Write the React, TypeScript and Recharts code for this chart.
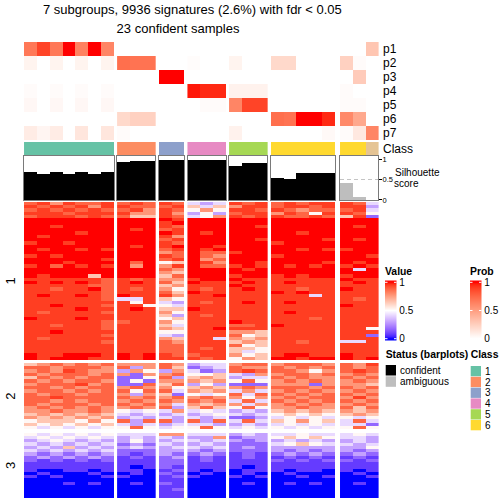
import React from 'react';
import { BarChart, Bar, XAxis, YAxis, Cell, ReferenceLine } from 'recharts';

// ---------- data ----------
const GROUP_SIZES = [7, 3, 2, 3, 3, 5, 3];
const GROUP_STATUS = ['confident', 'confident', 'confident', 'confident', 'confident', 'confident', 'ambiguous'];
const COLUMN_CLASS = [1, 1, 1, 1, 1, 1, 1, 2, 2, 2, 3, 3, 4, 4, 4, 5, 5, 5, 6, 6, 6, 6, 6, 6, 6, 7];
const SILHOUETTE = [
  0.7, 0.63, 0.7, 0.63, 0.7, 0.63, 0.7,
  0.93, 0.96, 0.96,
  0.99, 0.99,
  0.975, 0.99, 0.99,
  0.83, 0.925, 0.925,
  0.55, 0.525, 0.675, 0.675, 0.675,
  0.41, 0.075, 0.01,
];

const PROB_NAMES = ['p1', 'p2', 'p3', 'p4', 'p5', 'p6', 'p7'];
const PROB_P1 = [0.68, 0.88, 0.68, 1, 0.64, 1, 0.62, 0, 0, 0, 0, 0, 0, 0, 0, 0, 0, 0, 0, 0, 0, 0, 0, 0, 0, 0.3];
const PROB_P2 = [0.06, 0, 0.06, 0, 0.06, 0, 0.06, 0.72, 0.7, 0.7, 0, 0, 0.015, 0, 0, 0.06, 0, 0, 0.2, 0.2, 0, 0, 0, 0.24, 0.02, 0];
const PROB_P3 = [0, 0, 0, 0, 0, 0, 0, 0, 0, 0, 1, 1, 0, 0, 0, 0, 0, 0, 0, 0, 0, 0, 0, 0, 0.27, 0];
const PROB_P4 = [0.02, 0, 0.02, 0, 0.02, 0, 0.02, 0, 0, 0, 0, 0, 0.98, 0.95, 0.95, 0.07, 0.07, 0.07, 0, 0, 0, 0, 0, 0.02, 0, 0];
const PROB_P5 = [0.04, 0, 0.04, 0, 0.04, 0, 0.04, 0, 0, 0, 0, 0, 0, 0.02, 0.02, 0.62, 0.88, 0.88, 0, 0, 0, 0, 0, 0.02, 0.02, 0];
const PROB_P6 = [0, 0, 0, 0, 0, 0, 0, 0.2, 0.24, 0.24, 0, 0, 0, 0, 0, 0, 0, 0, 0.72, 0.7, 1, 1, 0.95, 0.6, 0.45, 0];
const PROB_P7 = [0.1, 0.05, 0.1, 0, 0.13, 0, 0.13, 0.02, 0, 0, 0, 0, 0, 0, 0, 0.07, 0, 0, 0, 0, 0, 0, 0.03, 0.02, 0.12, 0.62];
const PROBS = [PROB_P1, PROB_P2, PROB_P3, PROB_P4, PROB_P5, PROB_P6, PROB_P7];

const CLASS_LEVELS = [1, 2, 3, 4, 5, 6];
const CLASS_COLORS: Record<number, string> = {
  1: '#66C2A5', 2: '#FC8D62', 3: '#8DA0CB', 4: '#E78AC3', 5: '#A6D854', 6: '#FFD92F', 7: '#E5C494',
};
const ROW_TITLES = ['1', '2', '3'];

// heatmap cells: one character per sample, groups separated by spaces
const CODE_VALUE: Record<string, number> = {
  '0': 0, '1': 0.08, '2': 0.17, '3': 0.3, '4': 0.42, '5': 0.52,
  '6': 0.65, '7': 0.77, '8': 0.88, '9': 0.95, X: 1,
};

const CLUSTER_1 = [
  '8979889 898 98 434 989 89899 984',
  '9898979 988 89 646 799 89989 993',
  '8989898 897 98 575 998 98788 894',
  '9998999 977 97 353 899 79859 985',
  '8999898 866 98 457 989 98898 692',
  'XXXXXXX XXX X9 XXX XXX XXXXX XXX',
  'XXXXXXX XXX 9X XXX XXX XXXXX XXX',
  'XX9XXXX XXX 98 XXX XX9 XXXXX X9X',
  'XXXXXXX X9X 89 XXX XXX XXXXX XXX',
  'XXXX9XX XXX X9 X9X XXX XX9XX XXX',
  'X9XXXXX XXX 97 XXX XXX XXXXX XXX',
  'XXXXXXX XXX 89 XXX XX9 XXXX9 X9X',
  '9XX9XXX XXX 98 XXX XXX 9XXXX XXX',
  'XXXXXXX X9X 9X XX9 XXX XXXXX XXX',
  'X9XX9X9 XXX 89 X9X XXX XX9X9 9XX',
  'XXXXXXX XXX 78 X88 9XX XXXXX XXX',
  '9X9XXXX XXX 98 X87 XXX 9XXXX XX9',
  'XXXXXX9 XXX 89 X78 XXX XXXXX XXX',
  'XXX9XXX X8X 56 X97 XX9 XXXX9 X9X',
  '9X8X9X9 X7X 79 X88 9X9 X9X9X 9X9',
  'XXXXXXX XXX 87 XXX X9X XXXXX X4X',
  'XXXXXXX XXX 76 XXX XXX XXXXX XXX',
  'X9XXX6X XXX 68 XXX 9XX 9X9XX 9XX',
  '9999998 989 77 9XX X99 99999 X99',
  'X9X9X98 9X9 86 X99 9X9 9X999 9X9',
  '9999988 999 67 999 X99 99999 999',
  '99899X8 989 75 989 9X9 99899 X99',
  '9999998 999 86 X99 999 X9X99 999',
  '9X99X98 X99 97 99X 999 99949 999',
  '9999998 449 65 999 999 99999 989',
  '9999999 959 43 989 9X9 9X999 999',
  '99X9998 995 54 999 999 99999 X99',
  '9999X99 9X9 66 X99 999 99999 999',
  '9899998 999 75 999 999 9X999 999',
  '9999999 999 63 989 999 99999 999',
  'X999X99 999 56 999 999 99989 999',
  '9999998 899 75 999 X99 99999 999',
  '9989998 999 64 999 889 X9999 999',
  '9999998 999 76 99X 999 99999 995',
  '99X9999 999 55 999 776 99999 999',
  '9999998 999 43 999 856 99999 992',
  '9899999 999 76 994 767 99999 999',
  '9999998 999 87 999 676 99899 449',
  '9999999 999 88 999 856 99999 999',
  '9999999 999 88 989 665 99999 999',
  '9999999 999 88 999 645 99999 999',
  'X99XXX9 X9X 98 899 756 9XX99 X99',
  'X9XXX99 X9X 99 989 576 XX9XX X9X',
];

const CLUSTER_2 = [
  '6787878 777 87 344 788 78887 879',
  '8878887 837 86 234 877 87878 878',
  '7879877 375 37 423 898 88757 898',
  '8788878 727 78 556 437 78878 787',
  '6878788 225 83 676 344 87877 878',
  '8787887 252 77 767 585 78787 787',
  '7888978 228 68 353 222 77727 776',
  '8878788 787 75 676 787 88878 878',
  '7887878 858 84 767 474 78787 787',
  '8788788 737 62 545 848 87878 878',
  '8898888 878 78 787 757 78788 797',
  '8878788 787 87 878 484 87878 878',
  '8788878 878 74 767 747 78787 787',
  '7878787 787 83 686 585 77877 868',
  '7787787 545 47 454 343 67676 767',
  '6767676 434 34 345 434 56565 676',
  '7676767 343 43 434 223 45454 545',
  '5666575 838 83 838 484 65756 484',
  '6565656 434 34 443 343 45454 442',
  '5454545 585 45 585 454 54545 585',
];

const CLUSTER_3 = [
  '5454545 444 77 444 343 44544 454',
  '4545454 343 43 337 233 56565 443',
  '3454343 353 34 434 323 34343 343',
  '4343434 232 43 343 222 45654 434',
  '3436343 343 34 434 232 33333 335',
  '4343434 222 33 323 222 32323 323',
  '3232323 212 32 232 121 23232 232',
  '2323232 121 23 121 121 12121 121',
  '2121212 111 22 121 111 21212 212',
  '1111111 111 22 111 111 11111 111',
  '1111111 101 21 111 101 11111 111',
  '1001101 110 12 101 011 10110 101',
  '0100010 010 21 010 010 01000 010',
  '1010001 100 12 100 101 00101 001',
  '0000000 000 11 000 000 00000 000',
  '0001010 010 21 000 010 01010 010',
  '0000000 000 11 000 000 00000 000',
  '0000000 000 12 000 000 00000 000',
  '0000000 000 11 000 000 00000 000',
  '0000000 000 11 000 000 00000 000',
];
const CLUSTERS = [CLUSTER_1, CLUSTER_2, CLUSTER_3];

// ---------- layout ----------
const FONT = '"Liberation Sans", Arial, Helvetica, sans-serif';
const X0 = 24;
const COL_W = 12.87;
const GAP = 3;
const LAST_GAP = 5;
const P_TOP = 41.7;
const P_ROW = 14.04;
const CLASS_TOP = 141.7;
const CLASS_H = 14;
const SIL_TOP = 156;
const SIL_H = 44;
const SIL_MAX = 1.086;
const SIL_PAD = 6;
const AXIS_W = 24;
const CLUSTER_Y = [[201.7, 360], [362.7, 429.3], [432.7, 498]];
const TINY = 1e-6;

const GROUP_START: number[] = [];
const GROUP_X: number[] = [];
{
  let col = 0;
  let x = X0;
  GROUP_SIZES.forEach((n, i) => {
    if (i > 0) x += i === GROUP_SIZES.length - 1 ? LAST_GAP : GAP;
    GROUP_START.push(col);
    GROUP_X.push(x);
    col += n;
    x += n * COL_W;
  });
}

// ---------- colour mapping (LAB interpolation like colorRamp2) ----------
type Lab = [number, number, number];
const toLinear = (c: number) => (c <= 0.04045 ? c / 12.92 : Math.pow((c + 0.055) / 1.055, 2.4));
const fromLinear = (c: number) => (c <= 0.0031308 ? 12.92 * c : 1.055 * Math.pow(c, 1 / 2.4) - 0.055);
const hexToLab = (hex: string): Lab => {
  const r = toLinear(parseInt(hex.slice(1, 3), 16) / 255);
  const g = toLinear(parseInt(hex.slice(3, 5), 16) / 255);
  const b = toLinear(parseInt(hex.slice(5, 7), 16) / 255);
  const x = (0.4124 * r + 0.3576 * g + 0.1805 * b) / 0.95047;
  const y = 0.2126 * r + 0.7152 * g + 0.0722 * b;
  const z = (0.0193 * r + 0.1192 * g + 0.9505 * b) / 1.08883;
  const f = (t: number) => (t > 0.008856 ? Math.cbrt(t) : 7.787 * t + 16 / 116);
  return [116 * f(y) - 16, 500 * (f(x) - f(y)), 200 * (f(y) - f(z))];
};
const labToHex = ([L, a, bb]: Lab) => {
  const fy = (L + 16) / 116;
  const fx = fy + a / 500;
  const fz = fy - bb / 200;
  const inv = (t: number) => (t * t * t > 0.008856 ? t * t * t : (t - 16 / 116) / 7.787);
  const x = inv(fx) * 0.95047;
  const y = inv(fy);
  const z = inv(fz) * 1.08883;
  const rgb = [
    3.2406 * x - 1.5372 * y - 0.4986 * z,
    -0.9689 * x + 1.8758 * y + 0.0415 * z,
    0.0557 * x - 0.204 * y + 1.057 * z,
  ];
  return '#' + rgb
    .map((c) => Math.round(255 * Math.min(1, Math.max(0, fromLinear(Math.max(0, c))))).toString(16).padStart(2, '0'))
    .join('');
};
const colorRamp = (breaks: number[], colors: string[]) => {
  const labs = colors.map(hexToLab);
  return (v: number) => {
    const x = Math.min(breaks[breaks.length - 1], Math.max(breaks[0], v));
    let i = 0;
    while (i < breaks.length - 2 && x > breaks[i + 1]) i++;
    const t = (x - breaks[i]) / (breaks[i + 1] - breaks[i]);
    return labToHex(labs[i].map((c, k) => c + (labs[i + 1][k] - c) * t) as Lab);
  };
};
const valueColor = colorRamp([0, 0.5, 1], ['#0000FF', '#FFFFFF', '#FF0000']);
const probColor = colorRamp([0, 1], ['#FFFFFF', '#FF0000']);

const decodeRow = (s: string) => s.replace(/ /g, '').split('').map((ch) => CODE_VALUE[ch]);

// ---------- pieces ----------
interface StripProps {
  left: number;
  top: number;
  width: number;
  height: number;
  colors: string[][];
}

// grid of coloured cells: rows are categories, samples are stacked bars.
// The wrapper sits on whole pixels; the fractional part goes into the margin.
const HeatStrip: React.FC<StripProps> = ({ left, top, width, height, colors }) => {
  const ix = Math.floor(left);
  const iy = Math.floor(top);
  const fx = left - ix;
  const fy = top - iy;
  const nCols = colors[0].length;
  const data = colors.map((row, r) => {
    const d: Record<string, number> = { row: r };
    row.forEach((_, c) => {
      d[`c${c}`] = 1;
    });
    return d;
  });
  return (
    <div style={{ position: 'absolute', left: ix, top: iy, shapeRendering: 'crispEdges' } as React.CSSProperties}>
      <BarChart
        layout="vertical"
        width={width + fx}
        height={height + fy}
        data={data}
        margin={{ top: fy, right: 0, bottom: 0, left: fx }}
        barCategoryGap={0}
        barGap={0}
        barSize={height / colors.length - TINY}
      >
        <XAxis type="number" domain={[0, nCols]} allowDataOverflow hide />
        <YAxis type="category" dataKey="row" hide />
        {colors[0].map((_, c) => (
          <Bar key={c} dataKey={`c${c}`} stackId="cells" isAnimationActive={false}>
            {colors.map((row, r) => (
              <Cell key={r} fill={row[c]} />
            ))}
          </Bar>
        ))}
      </BarChart>
    </div>
  );
};

const SilhouettePanel: React.FC<{ g: number }> = ({ g }) => {
  const start = GROUP_START[g];
  const n = GROUP_SIZES[g];
  const isLast = g === GROUP_SIZES.length - 1;
  const w = n * COL_W;
  const ix = Math.floor(GROUP_X[g]);
  const fx = GROUP_X[g] - ix;
  const data = SILHOUETTE.slice(start, start + n).map((v, i) => ({ col: i, score: v }));
  const fill = GROUP_STATUS[g] === 'confident' ? '#000000' : '#BEBEBE';
  return (
    <>
      <div style={{ position: 'absolute', left: ix, top: SIL_TOP - SIL_PAD, shapeRendering: 'crispEdges' } as React.CSSProperties}>
        <BarChart
          width={fx + w + (isLast ? AXIS_W : 0)}
          height={SIL_H + 2 * SIL_PAD}
          data={data}
          margin={{ top: SIL_PAD, right: 0, bottom: SIL_PAD, left: fx }}
          barCategoryGap={0}
          barGap={0}
          barSize={COL_W - TINY}
        >
          <XAxis dataKey="col" hide />
          <YAxis
            domain={[0, SIL_MAX]}
            allowDataOverflow
            hide={!isLast}
            orientation="right"
            width={AXIS_W}
            ticks={[0, 0.5, 1]}
            interval={0}
            tickSize={3}
            tickMargin={1}
            tick={{ fontSize: 7.5, fill: '#000', fontFamily: FONT }}
            axisLine={{ stroke: '#000' }}
            tickLine={{ stroke: '#000' }}
          />
          {isLast && <ReferenceLine y={0.5} stroke="#c4c4c4" strokeDasharray="4 3" strokeWidth={1.2} />}
          <Bar dataKey="score" fill={fill} isAnimationActive={false} />
        </BarChart>
      </div>
      <div
        style={{
          position: 'absolute',
          left: GROUP_X[g] - 0.75,
          top: SIL_TOP - 0.75,
          width: w + 1.5,
          height: SIL_H + 1.5,
          border: '1.5px solid #7a7a7a',
          boxSizing: 'border-box',
        }}
      />
    </>
  );
};

const GradientLegend: React.FC<{ x: number; title: string; id: string; color: (v: number) => string }> = ({ x, title, id, color }) => {
  const top = 280.5;
  const h = 60;
  const w = 11.5;
  const y1 = 282.3;
  const y0 = 338.7;
  const stops = Array.from({ length: 31 }, (_, i) => i / 30);
  const tickY = (v: number) => y0 - v * (y0 - y1);
  return (
    <g>
      <defs>
        <linearGradient id={id} x1="0" y1="0" x2="0" y2="1">
          {stops.map((o) => (
            <stop key={o} offset={o} stopColor={color((y0 - (top + o * h)) / (y0 - y1))} />
          ))}
        </linearGradient>
      </defs>
      <text x={x} y={275} fontSize={10.4} fontWeight="bold">{title}</text>
      <rect x={x} y={top} width={w} height={h} fill={`url(#${id})`} />
      {[1, 0.5, 0].map((v) => (
        <g key={v}>
          <line x1={x} x2={x + 2.5} y1={tickY(v)} y2={tickY(v)} stroke="#fff" strokeWidth={1} />
          <line x1={x + w - 2.5} x2={x + w} y1={tickY(v)} y2={tickY(v)} stroke="#fff" strokeWidth={1} />
          <text x={x + w + 2.8} y={tickY(v)} fontSize={10} dominantBaseline="central">{String(v)}</text>
        </g>
      ))}
    </g>
  );
};

const Overlay: React.FC = () => (
  <svg
    width={504}
    height={504}
    style={{ position: 'absolute', left: 0, top: 0, pointerEvents: 'none' }}
    fontFamily={FONT}
    fill="#000"
  >
    <text x={43} y={14.3} fontSize={13}>7 subgroups, 9936 signatures (2.6%) with fdr &lt; 0.05</text>
    <text x={116.6} y={32.5} fontSize={13}>23 confident samples</text>

    {PROB_NAMES.map((name, i) => (
      <text key={name} x={383} y={P_TOP + (i + 0.5) * P_ROW} fontSize={12} dominantBaseline="central">{name}</text>
    ))}
    <text x={383} y={CLASS_TOP + CLASS_H / 2} fontSize={12} dominantBaseline="central">Class</text>
    <text x={395} y={176} fontSize={10}>Silhouette</text>
    <text x={394} y={186.7} fontSize={10}>score</text>

    {ROW_TITLES.map((t, k) => {
      const cy = (CLUSTER_Y[k][0] + CLUSTER_Y[k][1]) / 2;
      return (
        <text key={t} x={15} y={cy} fontSize={13} textAnchor="middle" transform={`rotate(-90, 15, ${cy})`}>{t}</text>
      );
    })}

    <GradientLegend x={385} title="Value" id="valueGrad" color={valueColor} />
    <GradientLegend x={470} title="Prob" id="probGrad" color={probColor} />

    <text x={385.7} y={357.7} fontSize={10.4} fontWeight="bold">Status (barplots)</text>
    <rect x={385.7} y={365} width={10.3} height={10.5} fill="#000000" />
    <rect x={385.7} y={376.3} width={10.3} height={10.5} fill="#BEBEBE" />
    <text x={400} y={370.3} fontSize={10} dominantBaseline="central">confident</text>
    <text x={400} y={381.5} fontSize={10} dominantBaseline="central">ambiguous</text>

    <text x={470.7} y={357.7} fontSize={10.4} fontWeight="bold">Class</text>
    {CLASS_LEVELS.map((c, i) => (
      <g key={c}>
        <rect x={470.7} y={366 + i * 10.8} width={10.3} height={10.3} fill={CLASS_COLORS[c]} />
        <text x={485} y={366 + i * 10.8 + 5.2} fontSize={10} dominantBaseline="central">{String(c)}</text>
      </g>
    ))}
  </svg>
);

export default function App() {
  const heatRows = CLUSTERS.map((rows) => rows.map(decodeRow));
  return (
    <div style={{ position: 'absolute', left: 0, top: 0, width: 504, height: 504, background: '#fff', overflow: 'hidden' }}>
      {GROUP_SIZES.map((n, g) => {
        const start = GROUP_START[g];
        const w = n * COL_W;
        const probColors = PROBS.map((p) => p.slice(start, start + n).map(probColor));
        const classColors = [COLUMN_CLASS.slice(start, start + n).map((c) => CLASS_COLORS[c])];
        return (
          <React.Fragment key={g}>
            <HeatStrip left={GROUP_X[g]} top={P_TOP} width={w} height={P_ROW * PROBS.length} colors={probColors} />
            <HeatStrip left={GROUP_X[g]} top={CLASS_TOP} width={w} height={CLASS_H} colors={classColors} />
            <SilhouettePanel g={g} />
            {heatRows.map((rows, k) => (
              <HeatStrip
                key={k}
                left={GROUP_X[g]}
                top={CLUSTER_Y[k][0]}
                width={w}
                height={CLUSTER_Y[k][1] - CLUSTER_Y[k][0]}
                colors={rows.map((r) => r.slice(start, start + n).map(valueColor))}
              />
            ))}
          </React.Fragment>
        );
      })}
      <Overlay />
    </div>
  );
}
